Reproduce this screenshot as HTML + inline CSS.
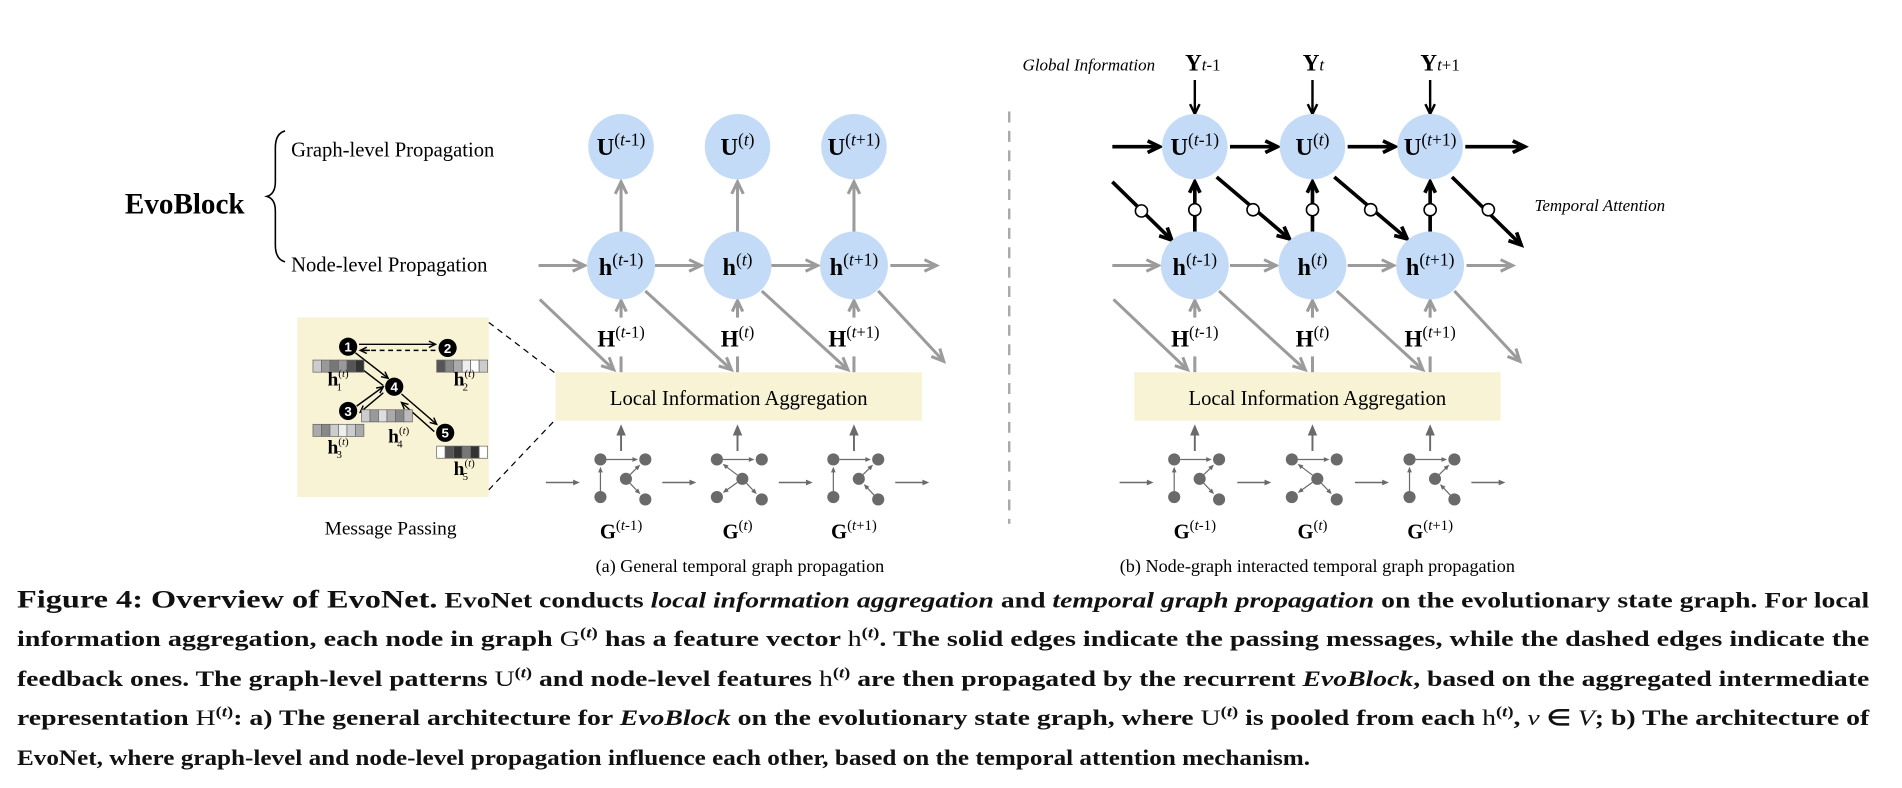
<!DOCTYPE html>
<html><head><meta charset="utf-8"><style>
html,body{margin:0;padding:0;background:#fff;}
svg{display:block;font-family:"Liberation Serif",serif;}
</style></head><body>
<svg id="fig" width="1902" height="788" viewBox="0 0 1568 650" preserveAspectRatio="none" xmlns="http://www.w3.org/2000/svg">
<rect x="0" y="0" width="1568" height="650" fill="#fff"/>
<text x="103" y="176" font-size="24" font-weight="bold">EvoBlock</text>
<path d="M235,108 Q227,110 227,122 L227,150 Q227,160 220,162 Q227,164 227,174 L227,202 Q227,214 235,216" fill="none" stroke="#000" stroke-width="1.3"/>
<text x="240" y="129" font-size="17">Graph-level Propagation</text>
<text x="240" y="224" font-size="17">Node-level Propagation</text>

<rect x="245" y="262" width="158" height="148" fill="#f9f3d6"/>
<line x1="403" y1="266" x2="458" y2="308" stroke="#000" stroke-dasharray="5,4" stroke-width="1"/>
<line x1="403" y1="404" x2="458" y2="346" stroke="#000" stroke-dasharray="5,4" stroke-width="1"/>
<text x="322" y="441" font-size="16" text-anchor="middle">Message Passing</text>
<line x1="832" y1="92" x2="832" y2="432" stroke="#aaa" stroke-width="2" stroke-dasharray="9,7"/>

<text x="843" y="58" font-size="14" font-style="italic">Global Information</text>
<text x="1265" y="174" font-size="14" font-style="italic">Temporal Attention</text>

<rect x="458" y="307" width="302" height="40" fill="#f9f3d6"/>
<text x="609" y="334" font-size="17" text-anchor="middle">Local Information Aggregation</text>
<rect x="935" y="307" width="302" height="40" fill="#f9f3d6"/>
<text x="1086" y="334" font-size="17" text-anchor="middle">Local Information Aggregation</text>

<text x="610" y="472" font-size="15" text-anchor="middle">(a) General temporal graph propagation</text>
<text x="1086" y="472" font-size="15" text-anchor="middle">(b) Node-graph interacted temporal graph propagation</text>

<g id="g-main"></g>

<g font-weight="bold" fill="#111">
<text x="14" y="501" font-size="18" textLength="1527" lengthAdjust="spacingAndGlyphs"><tspan font-size="21">Figure 4: Overview of EvoNet.</tspan> EvoNet conducts <tspan font-style="italic">local information aggregation</tspan> and <tspan font-style="italic">temporal graph propagation</tspan> on the evolutionary state graph. For local</text>
<text x="14" y="533" font-size="18" textLength="1527" lengthAdjust="spacingAndGlyphs">information aggregation, each node in graph <tspan font-weight="normal">G</tspan><tspan dy="-7" font-size="12">(<tspan font-style="italic">t</tspan>)</tspan><tspan dy="7"> has a feature vector </tspan><tspan font-weight="normal">h</tspan><tspan dy="-7" font-size="12">(<tspan font-style="italic">t</tspan>)</tspan><tspan dy="7">. The solid edges indicate the passing messages, while the dashed edges indicate the</tspan></text>
<text x="14" y="566" font-size="18" textLength="1527" lengthAdjust="spacingAndGlyphs">feedback ones. The graph-level patterns <tspan font-weight="normal">U</tspan><tspan dy="-7" font-size="12">(<tspan font-style="italic">t</tspan>)</tspan><tspan dy="7"> and node-level features </tspan><tspan font-weight="normal">h</tspan><tspan dy="-7" font-size="12">(<tspan font-style="italic">t</tspan>)</tspan><tspan dy="7"> are then propagated by the recurrent </tspan><tspan font-style="italic">EvoBlock</tspan>, based on the aggregated intermediate</text>
<text x="14" y="598" font-size="18" textLength="1527" lengthAdjust="spacingAndGlyphs">representation <tspan font-weight="normal">H</tspan><tspan dy="-7" font-size="12">(<tspan font-style="italic">t</tspan>)</tspan><tspan dy="7">: a) The general architecture for </tspan><tspan font-style="italic">EvoBlock</tspan> on the evolutionary state graph, where <tspan font-weight="normal">U</tspan><tspan dy="-7" font-size="12">(<tspan font-style="italic">t</tspan>)</tspan><tspan dy="7"> is pooled from each </tspan><tspan font-weight="normal">h</tspan><tspan dy="-7" font-size="12">(<tspan font-style="italic">t</tspan>)</tspan><tspan dy="7">, </tspan><tspan font-style="italic" font-weight="normal">v</tspan> ∈ <tspan font-style="italic" font-weight="normal">V</tspan>; b) The architecture of</text>
<text x="14" y="631" font-size="18" textLength="1066" lengthAdjust="spacingAndGlyphs">EvoNet, where graph-level and node-level propagation influence each other, based on the temporal attention mechanism.</text>
</g>
</svg>
<script>
const leftCols=[512,608,704];
const rightCols=[985,1082,1179];
const suffixes=['-1','','+1'];
const root=document.getElementById('g-main');
let html='';
const GRAY='#9b9b9b', DARK='#6a6a6a', BLUE='#c3dbf6';
function arrow(x1,y1,x2,y2,c,w,h,name){
  const a=Math.atan2(y2-y1,x2-x1),s=0.45;
  const p1=[x2-h*Math.cos(a-s),y2-h*Math.sin(a-s)],p2=[x2-h*Math.cos(a+s),y2-h*Math.sin(a+s)];
  return `<g><line x1="${x1}" y1="${y1}" x2="${x2}" y2="${y2}" stroke="${c}" stroke-width="${w}"/><polyline points="${p1} ${x2},${y2} ${p2}" fill="none" stroke="${c}" stroke-width="${w}" stroke-linejoin="miter"/></g>`;
}
function solidArrow(x1,y1,x2,y2,c,w,h,name){
  const a=Math.atan2(y2-y1,x2-x1),s=0.4;
  const p1=[x2-h*Math.cos(a-s),y2-h*Math.sin(a-s)],p2=[x2-h*Math.cos(a+s),y2-h*Math.sin(a+s)];
  return `<g><line x1="${x1}" y1="${y1}" x2="${x2-h*0.8*Math.cos(a)}" y2="${y2-h*0.8*Math.sin(a)}" stroke="${c}" stroke-width="${w}"/><polygon points="${p1} ${x2},${y2} ${p2}" fill="${c}"/></g>`;
}
function lab(x,y,base,suf,fs,name){
  return `<text x="${x}" y="${y}" font-size="${fs}" text-anchor="middle"><tspan font-weight="bold">${base}</tspan><tspan dy="${-fs*0.4}" font-size="${fs*0.72}">(<tspan font-style="italic">t</tspan>${suf})</tspan></text>`;
}
function icon(cx,k,name){
  const n=[[cx-17,379],[cx+20,379],[cx+4,395],[cx-17,410],[cx+20,412]];
  const edges=k===0?[[0,1],[2,1],[3,0],[2,4]]:k===1?[[0,1],[2,0],[2,3],[2,4]]:[[0,1],[3,0],[2,1],[4,2]];
  let s=`<g>`;
  edges.forEach(e=>{const a=n[e[0]],b=n[e[1]];const dx=b[0]-a[0],dy=b[1]-a[1],L=Math.hypot(dx,dy);
    s+=solidArrow(a[0]+dx/L*5,a[1]+dy/L*5,b[0]-dx/L*6,b[1]-dy/L*6,DARK,1,5,'graph-edge');});
  n.forEach(p=>s+=`<circle cx="${p[0]}" cy="${p[1]}" r="5" fill="${DARK}"/>`);
  return s+'</g>';
}
function panel(cols,right){
  const P=right?'right':'left';
  cols.forEach((cx,i)=>{
    const suf=suffixes[i];
    html+=arrow(cx-68,219,cx-30,219,GRAY,2.5,11,`${P}-node-arrow-${i}`);
    if(i===cols.length-1) html+=arrow(cx+30,219,cx+68,219,GRAY,2.5,11,`${P}-node-arrow-out`);
    if(i===0) html+=arrow(cx-67,247,cx-6,305,GRAY,2.5,11,`${P}-diag-in`);
    html+=arrow(cx+20,240,cx+(i===cols.length-1?74:91),(i===cols.length-1?298:305),GRAY,2.5,11,`${P}-diag-${i}`);
    html+=arrow(cx,262,cx,248,GRAY,2.5,10,`${P}-H-arrow-${i}`);
    html+=`<line x1="${cx}" y1="294" x2="${cx}" y2="307" stroke="${GRAY}" stroke-width="2.5"/>`;
    html+=lab(cx,286,'H',suf,19,`${P}-H-label-${i}`);
    html+=solidArrow(cx,372,cx,350,DARK,1.6,10,`${P}-graph-up-${i}`);
    html+=icon(cx,i,`${P}-graph-${i}`);
    html+=solidArrow(cx-62,398,cx-34,398,DARK,1.2,6,`${P}-graph-arrow-${i}`);
    if(i===cols.length-1) html+=solidArrow(cx+34,398,cx+62,398,DARK,1.2,6,`${P}-graph-arrow-out`);
    html+=lab(cx,444,'G',suf,17,`${P}-G-label-${i}`);
    if(!right){
      html+=arrow(cx,192,cx,150,GRAY,2.5,11,`${P}-h-to-U-${i}`);
    } else {
      html+=`<text x="${cx-8}" y="58" font-size="19"><tspan font-weight="bold">Y</tspan><tspan font-size="14" font-style="italic">t</tspan><tspan font-size="14">${suf}</tspan></text>`;
      html+=arrow(cx,66,cx,94,'#000',2,9,`Y-arrow-${i}`);
      html+=arrow(cx-68,121,cx-29,121,'#000',3,11,`U-arrow-${i}`);
      if(i===cols.length-1) html+=arrow(cx+29,121,cx+78,121,'#000',3,11,'U-arrow-out');
      if(i===0){html+=arrow(cx-68,150,cx-19,198,'#000',3,11,'attn-in');html+=`<circle cx="${cx-44}" cy="174" r="5" fill="#fff" stroke="#000" stroke-width="1.3"/>`;}
      html+=arrow(cx+18,146,cx+(i===cols.length-1?75:78),(i===cols.length-1?202:197),'#000',3,11,`attn-${i}`);
      html+=`<circle cx="${cx+48}" cy="173" r="5" fill="#fff" stroke="#000" stroke-width="1.3"/>`;
      html+=arrow(cx,192,cx,150,'#000',3,10,`h-to-U-${i}`);
      html+=`<circle cx="${cx}" cy="173" r="5" fill="#fff" stroke="#000" stroke-width="1.3"/>`;
    }
    html+=`<circle cx="${cx}" cy="121" r="27" fill="${BLUE}"/>`;
    html+=`<circle cx="${cx}" cy="219" r="28" fill="${BLUE}"/>`;
    html+=lab(cx,128,'U',suf,20,`${P}-U-label-${i}`);
    html+=lab(cx,227,'h',suf,20,`${P}-h-label-${i}`);
  });
}
panel(leftCols,false);
panel(rightCols,true);
const mpNodes=[[287,286],[369,287],[287,339],[325,319],[367,357]];
const mpBars=[[258,297],[360,297],[258,350],[298,338],[360,368]];
const mpShades=[['#ccc','#999','#777','#999','#555','#333'],['#555','#888','#aaa','#eee','#fff','#ccc'],['#aaa','#888','#ccc','#eee','#ccc','#aaa'],['#ccc','#999','#ddd','#aaa','#888','#bbb'],['#fff','#555','#333','#777','#333','#fff']];
const mpLabels=[[270,318],[374,318],[270,374],[320,365],[374,392]];
html+=arrow(296,284,359,284,'#000',1.2,6,'mp-edge-1-2');
html+=`<line x1="359" y1="289" x2="298" y2="289" stroke="#000" stroke-dasharray="4,3" stroke-width="1.2"/>`+arrow(305,289,297,289,'#000',1.2,6,'mp-fb');
html+=arrow(293,291,320,312,'#000',1.2,6,'mp-edge-1-4');
html+=arrow(316,318,294,301,'#000',1.2,6,'mp-fb-4-1');
html+=arrow(294,335,316,319,'#000',1.2,6,'mp-edge-3-4');
html+=arrow(316,324,297,340,'#000',1.2,6,'mp-fb-4-3');
html+=arrow(331,325,360,350,'#000',1.2,6,'mp-edge-4-5');
html+=arrow(358,356,331,332,'#000',1.2,6,'mp-fb-5-4');
mpBars.forEach((b,i)=>{mpShades[i].forEach((c,j)=>{html+=`<rect x="${b[0]+j*7}" y="${b[1]}" width="7" height="10" fill="${c}" stroke="#666" stroke-width="0.6"/>`;});});
mpNodes.forEach((p,i)=>{html+=`<g><circle cx="${p[0]}" cy="${p[1]}" r="7.5" fill="#000"/><text x="${p[0]}" y="${p[1]+4}" font-size="11" font-weight="bold" fill="#fff" text-anchor="middle" font-family="Liberation Sans,sans-serif">${i+1}</text></g>`;});
mpLabels.forEach((p,i)=>{html+=`<text x="${p[0]}" y="${p[1]}" font-size="16" font-weight="bold">h<tspan font-size="9" font-weight="normal" dy="-7">(<tspan font-style="italic">t</tspan>)</tspan><tspan font-size="9" font-weight="normal" dx="-10" dy="11">${i+1}</tspan></text>`;});
root.innerHTML=html;
</script>
</body></html>
